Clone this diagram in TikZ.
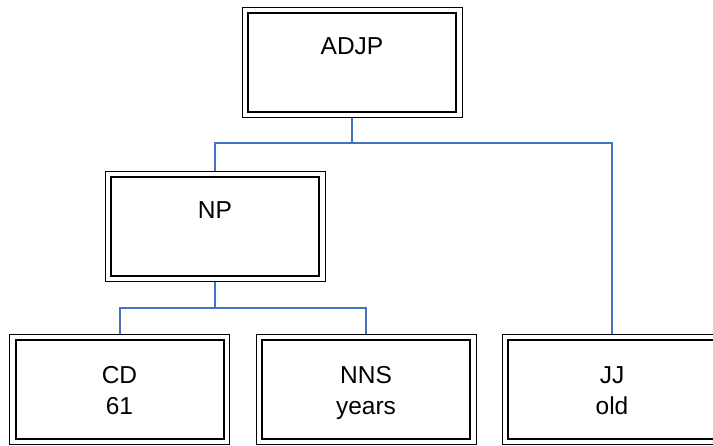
\documentclass[tikz,border=0pt]{standalone}
\usepackage{fontspec}
\setmainfont{Liberation Sans}
\definecolor{linkblue}{HTML}{4472C4}
\begin{document}
\begin{tikzpicture}[x=1pt,y=1pt,
  tbox/.style={draw=black, line width=1pt, minimum width=220pt, minimum height=110pt, inner sep=0pt,
    path picture={\draw[line width=2pt] ([shift={(6pt,-5.5pt)}]path picture bounding box.north west) rectangle ([shift={(-6pt,5.5pt)}]path picture bounding box.south east);}},
  lbl/.style={font=\fontsize{24.5}{30}\selectfont, inner sep=0pt, anchor=base},
  link/.style={draw=linkblue, line width=2pt}]
\useasboundingbox (0,0) rectangle (713,446);
\clip (0,0) rectangle (713,446);
% boxes
\node[tbox] (adjp) at (352,383) {};
\node[tbox] (np) at (215,219) {};
\node[tbox] (cd) at (119.5,56) {};
\node[tbox] (nns) at (366,56) {};
\node[tbox] (jj) at (612,56) {};
% labels
\node[lbl] (adjpt) at ([yshift=-47pt]adjp.north) {ADJP};
\node[lbl] (npt) at ([yshift=-47pt]np.north) {NP};
\node[lbl] (cdt) at ([yshift=-49pt]cd.north) {CD};
\node[lbl] (cdw) at ([yshift=-80pt]cd.north) {61};
\node[lbl] (nnst) at ([yshift=-49pt]nns.north) {NNS};
\node[lbl] (nnsw) at ([yshift=-80pt]nns.north) {years};
\node[lbl] (jjt) at ([yshift=-49pt]jj.north) {JJ};
\node[lbl] (jjw) at ([yshift=-80pt]jj.north) {old};
% connectors
\coordinate (j1) at (352,303);
\coordinate (j2) at (215,138);
\draw[link] (adjp.south) -- (j1) -| (np.north);
\draw[link] (j1) -| (jj.north);
\draw[link] (np.south) -- (j2) -| (cd.north);
\draw[link] (j2) -| (nns.north);
\end{tikzpicture}
\end{document}
